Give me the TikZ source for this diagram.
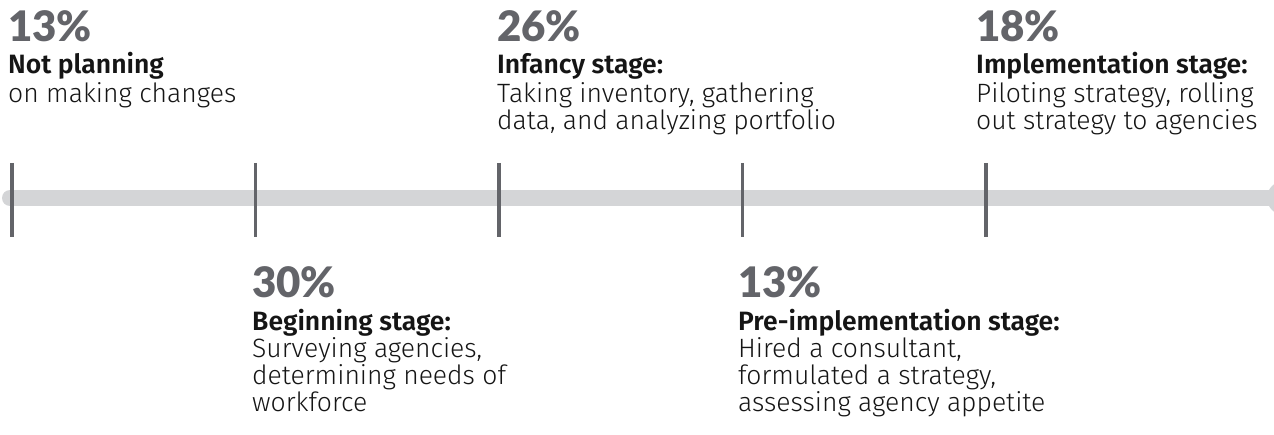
\documentclass[tikz,border=0pt]{standalone}
\usepackage{fontspec}
\setmainfont{Fira Sans}[UprightFont={* Light},BoldFont={* SemiBold}]
\newfontfamily\pctfont{Lato Black}
\usetikzlibrary{positioning}
\definecolor{tlgrey}{HTML}{636469}
\definecolor{tlbar}{HTML}{D4D5D7}
\definecolor{tltext}{HTML}{151515}

\begin{document}
\begin{tikzpicture}[x=1pt,y=1pt,
  pct/.style={anchor=base west, inner sep=0pt, text=tlgrey, font=\pctfont\fontsize{42}{42}\selectfont},
  ttl/.style={anchor=base west, inner sep=0pt, text=tltext, font=\bfseries\fontsize{26.5}{27}\selectfont},
  body/.style={anchor=base west, inner sep=0pt, text=tltext, align=left, font=\fontsize{26.5}{27}\selectfont}]
\useasboundingbox (0,0) rectangle (1274,434);
\clip (0,0) rectangle (1274,434);

% Timeline bar
\draw[tlbar, line width=16pt, line cap=round] (10,236) -- (1280,236);
\fill[tlbar] (1284,236) circle (17);

% Ticks
\foreach \x in {12,255.5,499,742.5,986}
  \draw[tlgrey, line width=3.5pt] (\x,271) -- (\x,197);

% Labels above (body nodes sit on their last line)
\node[pct] (pnot) at (8,392) {13\%};
\node[ttl] (tnot) at (8,360) {Not planning};
\node[body] (bnot) at (8,331) {on making changes};

\node[pct] (pinf) at (497,392) {26\%};
\node[ttl] (tinf) at (497,360) {Infancy stage:};
\node[body] (binf) at (497,304) {Taking inventory, gathering\\data, and analyzing portfolio};

\node[pct] (pimp) at (976,392) {18\%};
\node[ttl] (timp) at (976,360) {Implementation stage:};
\node[body] (bimp) at (976,304) {Piloting strategy, rolling\\out strategy to agencies};

% Labels below
\node[pct] (pbeg) at (252,136) {30\%};
\node[ttl] (tbeg) at (252,103) {Beginning stage:};
\node[body] (bbeg) at (252,23) {Surveying agencies,\\determining needs of\\workforce};

\node[pct] (ppre) at (738,136) {13\%};
\node[ttl] (tpre) at (738,103) {Pre-implementation stage:};
\node[body] (bpre) at (738,23) {Hired a consultant,\\formulated a strategy,\\assessing agency appetite};
\end{tikzpicture}
\end{document}
